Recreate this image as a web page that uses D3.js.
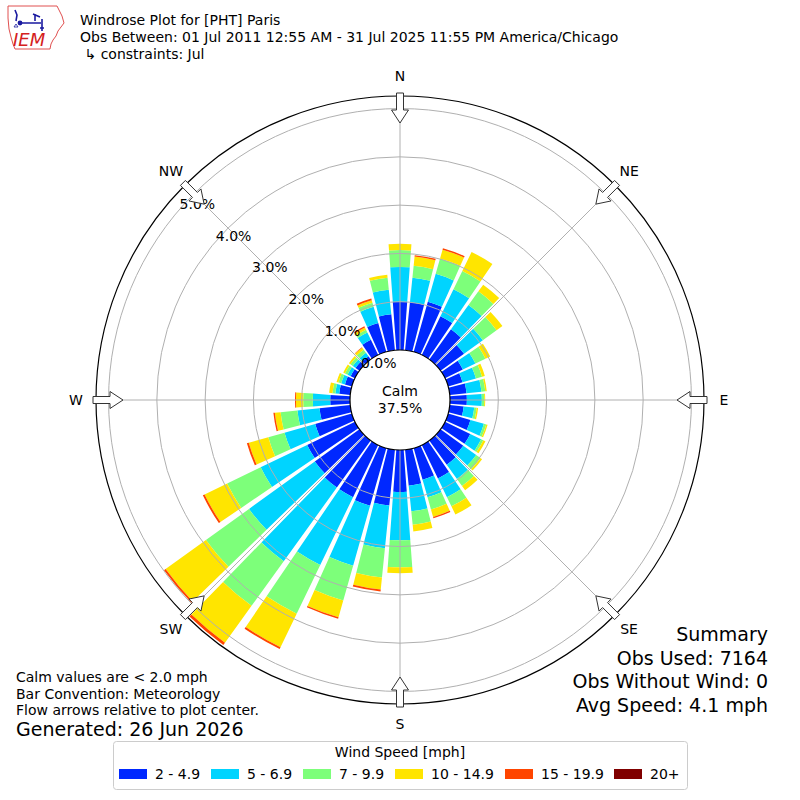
<!DOCTYPE html>
<html><head><meta charset="utf-8">
<script src="https://cdn.jsdelivr.net/npm/d3@7"></script>
<style>body{margin:0;background:#fff} text{font-family:"DejaVu Sans",sans-serif}</style>
</head><body>
<svg id="chart" width="800" height="800"></svg>
<script>
// ---------------- data ----------------
const directions = [0,10,20,30,40,50,60,70,80,90,100,110,120,130,140,150,160,170,
                    180,190,200,210,220,230,240,250,260,270,280,290,300,310,320,330,340,350];
const speedBins = ["2 - 4.9","5 - 6.9","7 - 9.9","10 - 14.9","15 - 19.9","20+"];
const binColors = ["#0028ff","#00d4ff","#7dff7a","#ffe500","#ff4500","#800000"];
// percent of observations in each speed bin, per direction
const bin2to5   = [1.00,1.00,1.08,0.89,0.77,0.60,0.41,0.31,0.35,0.35,0.29,0.48,0.58,0.58,0.62,0.77,0.68,0.75,
                   0.87,1.16,1.24,1.20,1.20,1.14,1.10,0.79,0.64,0.41,0.23,0.15,0.10,0.10,0.08,0.35,0.62,0.75];
const bin5to7   = [0.72,0.51,0.60,0.62,0.62,0.48,0.29,0.29,0.31,0.31,0.22,0.29,0.25,0.33,0.36,0.43,0.38,0.53,
                   1.00,0.89,1.29,1.56,1.88,1.68,1.07,0.66,0.46,0.36,0.08,0.08,0.07,0.07,0.09,0.17,0.35,0.51];
const bin7to10  = [0.35,0.25,0.33,0.42,0.35,0.35,0.23,0.13,0.08,0.05,0.05,0.05,0.05,0.11,0.18,0.21,0.26,0.28,
                   0.56,0.61,0.75,1.12,1.14,1.10,0.77,0.35,0.35,0.20,0.06,0.06,0.06,0.06,0.08,0.06,0.09,0.25];
const bin10to15 = [0.13,0.19,0.19,0.44,0.17,0.15,0.11,0.06,0.03,0.02,0.03,0.03,0.05,0.04,0.11,0.19,0.16,0.14,
                   0.12,0.25,0.36,0.77,0.94,1.03,0.52,0.42,0.12,0.15,0.07,0.04,0.04,0.04,0.05,0.05,0.05,0.06];
const bin15to20 = [0.00,0.03,0.03,0.00,0.00,0.00,0.00,0.00,0.00,0.00,0.00,0.00,0.00,0.00,0.00,0.00,0.03,0.00,
                   0.00,0.04,0.03,0.04,0.06,0.04,0.04,0.04,0.03,0.02,0.00,0.00,0.00,0.00,0.01,0.03,0.04,0.00];
const bin20plus = [0,0,0,0,0,0,0,0,0,0,0,0,0,0,0,0,0,0,0,0,0,0,0,0,0,0,0,0,0,0,0,0,0,0,0,0];
const ringTicks = [0,1,2,3,4,5];
const compassLabels = ["N","NE","E","SE","S","SW","W","NW"];
const compassAngles = [0,45,90,135,180,225,270,315];
const calmPct = 37.5;
const titleLines = ["Windrose Plot for [PHT] Paris",
  "Obs Between: 01 Jul 2011 12:55 AM - 31 Jul 2025 11:55 PM America/Chicago",
  " \u21B3 constraints: Jul"];
const noteLines = ["Calm values are < 2.0 mph","Bar Convention: Meteorology","Flow arrows relative to plot center."];
const generatedText = "Generated: 26 Jun 2026";
const summaryLines = ["Summary","Obs Used: 7164","Obs Without Wind: 0","Avg Speed: 4.1 mph"];
const legendTitle = "Wind Speed [mph]";

// ---------------- layout ----------------
const svg = d3.select("#chart");
const cx = 400, cy = 400;
const rMaxPct = 5.26;
const r = d3.scaleLinear().domain([0, rMaxPct]).range([50, 304]);
const ang = d3.scaleLinear().domain([0, 360]).range([0, 2*Math.PI]);
const halfW = ang(8.4)/2;
const gridColor = "#b0b0b0";

const keys = ["b0","b1","b2","b3","b4","b5"];
const table = directions.map((d,i)=>({dir:d, b0:bin2to5[i], b1:bin5to7[i], b2:bin7to10[i],
  b3:bin10to15[i], b4:bin15to20[i], b5:bin20plus[i]}));
const series = d3.stack().keys(keys)(table);

const g = svg.append("g").attr("transform",`translate(${cx},${cy})`);
const arc = d3.arc()
  .innerRadius(d=>r(d[0])).outerRadius(d=>r(d[1]))
  .startAngle(d=>ang(d.data.dir)-halfW).endAngle(d=>ang(d.data.dir)+halfW);

series.forEach((s,k)=>{
  g.append("g").selectAll("path").data(s.filter(d=>d[1]-d[0]>0)).join("path")
    .attr("d",arc).attr("fill",binColors[k]);
});

// grid rings
g.append("g").selectAll("circle").data(ringTicks.slice(1)).join("circle")
  .attr("r",d=>r(d)).attr("fill","none").attr("stroke",gridColor).attr("stroke-width",1);
// radial lines
const pt = (deg, rad)=>[rad*Math.sin(ang(deg)), -rad*Math.cos(ang(deg))];
g.append("g").selectAll("line").data(compassAngles).join("line")
  .attr("x1",d=>pt(d,r(0))[0]).attr("y1",d=>pt(d,r(0))[1])
  .attr("x2",d=>pt(d,r(rMaxPct))[0]).attr("y2",d=>pt(d,r(rMaxPct))[1])
  .attr("stroke",gridColor).attr("stroke-width",1);

// outer circle
g.append("circle").attr("r",r(rMaxPct)).attr("fill","none").attr("stroke","#000").attr("stroke-width",1.2);
// calm circle
g.append("circle").attr("r",r(0)).attr("fill","#fff").attr("stroke","#000").attr("stroke-width",1.2);
g.append("text").attr("x",0).attr("y",-4).attr("text-anchor","middle").attr("font-size",14).text("Calm");
g.append("text").attr("x",0).attr("y",13).attr("text-anchor","middle").attr("font-size",14).text(calmPct.toFixed(1)+"%");

// ring labels
const labAng = 360-48.7;
g.append("g").selectAll("text").data(ringTicks).join("text")
  .attr("x",d=>pt(labAng,r(d))[0]-1.5).attr("y",d=>pt(labAng,r(d))[1]+1)
  .attr("font-size",14).attr("text-anchor","start").text(d=>d.toFixed(1)+"%");

// flow arrows
const arrowLocal = [[-3.5,307],[3.5,307],[3.5,290],[8.5,290],[0,277],[-8.5,290],[-3.5,290]];
compassAngles.forEach(a=>{
  const t = ang(a);
  const pts = arrowLocal.map(([u,v])=>[v*Math.sin(t)+u*Math.cos(t), -v*Math.cos(t)+u*Math.sin(t)]);
  g.append("path").attr("d",d3.line()(pts)+"Z").attr("fill","#fff")
   .attr("stroke","#333").attr("stroke-width",1).attr("stroke-linejoin","miter");
});
// compass labels
g.append("g").selectAll("text").data(compassLabels).join("text")
  .attr("x",(d,i)=>pt(compassAngles[i],324)[0]).attr("y",(d,i)=>pt(compassAngles[i],324)[1]+5)
  .attr("text-anchor","middle").attr("font-size",14).text(d=>d);

// ---------------- texts ----------------
svg.append("g").selectAll("text").data(titleLines).join("text")
  .attr("x",80).attr("y",(d,i)=>25+i*17).attr("font-size",14).attr("xml:space","preserve")
  .style("white-space","pre").text(d=>d);
svg.append("g").selectAll("text").data(noteLines).join("text")
  .attr("x",16).attr("y",(d,i)=>682+i*16.5).attr("font-size",14).text(d=>d);
svg.append("text").attr("x",16).attr("y",736).attr("font-size",19).text(generatedText);
svg.append("g").selectAll("text").data(summaryLines).join("text")
  .attr("x",768).attr("y",(d,i)=>641+i*23.7).attr("font-size",19).attr("text-anchor","end").text(d=>d);

// ---------------- logo ----------------
const logo = svg.append("g");
logo.append("path").attr("d","M8,6 L57,6 L59,10 L62,16 L64,23 L61,27 L58,31 L56,36 L53,40 L51,44 L50,49 L15,49 L13,44 L11,37 L9,29 L8,18 Z")
  .attr("fill","none").attr("stroke","#e05050").attr("stroke-width",1);
const blue = "#1a1aa0";
logo.append("path").attr("d","M15,10 L17,15 L16,21 M19,23 L41,23 M35,14 L35,21 M33,14 L40,17 M42,19 L42,31 M40,28 L44,28")
  .attr("fill","none").attr("stroke",blue).attr("stroke-width",1.6);
logo.append("circle").attr("cx",20).attr("cy",23).attr("r",2.4).attr("fill",blue);
logo.append("path").attr("d","M14,27 L16,24 L18,27 Z").attr("fill","none").attr("stroke",blue).attr("stroke-width",0.8);
logo.append("text").attr("x",13).attr("y",46).attr("font-family","Liberation Serif, serif")
  .attr("font-style","italic").attr("font-size",18).attr("fill","#d42020").text("IEM");

// ---------------- legend ----------------
const lg = svg.append("g");
lg.append("rect").attr("x",113.5).attr("y",741.5).attr("width",574).attr("height",48).attr("rx",3)
  .attr("fill","#fff").attr("stroke","#cccccc");
lg.append("text").attr("x",400).attr("y",757).attr("text-anchor","middle").attr("font-size",14).text(legendTitle);
const patchX = [119,211,303,395,505,614];
speedBins.forEach((b,i)=>{
  lg.append("rect").attr("x",patchX[i]).attr("y",769).attr("width",28).attr("height",10).attr("fill",binColors[i]);
  lg.append("text").attr("x",patchX[i]+36).attr("y",779).attr("font-size",14).text(b);
});
</script>
</body></html>
